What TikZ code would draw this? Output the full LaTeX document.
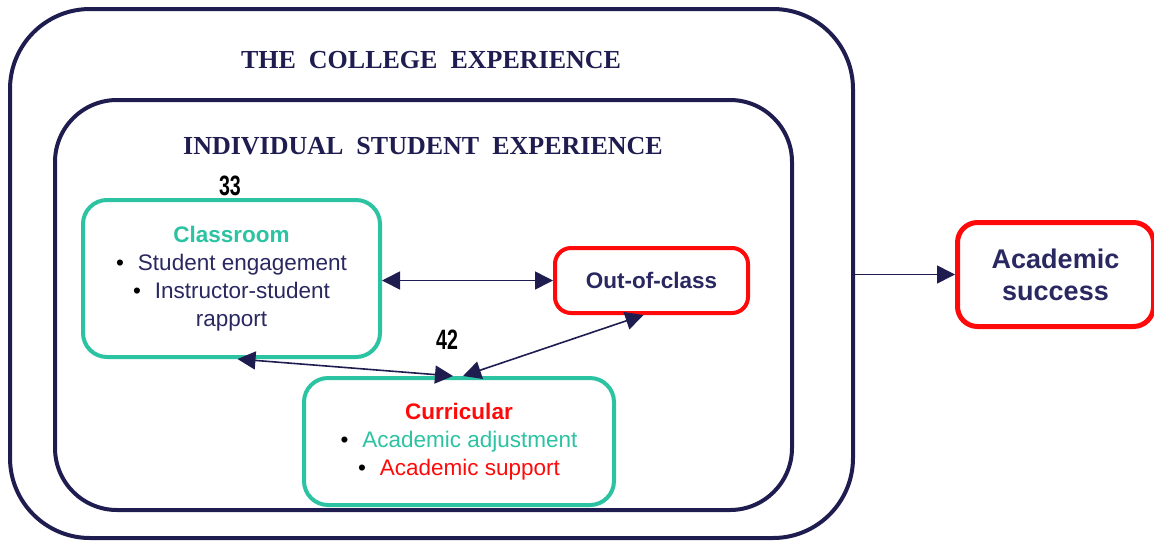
\documentclass[tikz,border=0pt]{standalone}
\usepackage{fontspec}
\usepackage{graphicx}
\setmainfont{Liberation Serif}
\newfontfamily\arialf{Liberation Sans}
\usetikzlibrary{arrows.meta}
\definecolor{navy}{HTML}{1F1D50}
\definecolor{navytxt}{HTML}{2A2860}
\definecolor{tealc}{HTML}{2CC3A2}
\definecolor{redc}{HTML}{FF0A0A}
\tikzset{
  frame/.style={draw=navy, line width=4pt, rounded corners=#1},
  frame/.default=70pt,
  tealbox/.style={draw=tealc, line width=4pt, rounded corners=24pt, fill=white,
    font=\arialf\fontsize{22.5}{28}\selectfont, align=center, text=navytxt},
  redbox/.style={draw=redc, line width=4pt, rounded corners=16pt, fill=white,
    font=\arialf\bfseries\fontsize{22.5}{28}\selectfont, align=center, text=navytxt},
  heading/.style={font=\bfseries\fontsize{26}{30}\selectfont, text=navy},
  num/.style={font=\arialf\bfseries\fontsize{28}{30}\selectfont, text=black},
  tip/.style={Triangle[length=18pt,width=18pt]},
  conn/.style={draw=navy, line width=1.6pt, {Triangle[length=18pt,width=18pt]}-{Triangle[length=18pt,width=18pt]}},
  conn1/.style={draw=navy, line width=1.6pt, -{Triangle[length=18pt,width=18pt]}},
}
\newcommand{\bul}{\textcolor{black}{\textbullet}\hspace{14pt}}
\begin{document}
\begin{tikzpicture}[x=1pt,y=-1pt]
\useasboundingbox (0,0) rectangle (1154,542);
% outer frames
\node[frame=80pt, minimum width=843pt, minimum height=529pt] (outer) at (431.5,273.5) {};
\node[frame=62pt, minimum width=737pt, minimum height=410pt] (inner) at (423.5,305) {};
\node[heading] (t1) at (431,60) {THE\ \ COLLEGE\ \ EXPERIENCE};
\node[heading] (t2) at (423,146) {INDIVIDUAL\ \ STUDENT\ \ EXPERIENCE};
% boxes
\node[tealbox, minimum width=297pt, minimum height=157pt] (cls) at (231.5,278.5)
  {\textcolor{tealc}{\bfseries Classroom}\\ \bul Student engagement\\ \bul Instructor-student\\ rapport};
\node[redbox, minimum width=193pt, minimum height=65pt] (out) at (651.5,280.5) {Out-of-class};
\node[tealbox, minimum width=310pt, minimum height=127pt] (cur) at (459,441.5)
  {\textcolor{redc}{\bfseries Curricular}\\ \bul\textcolor{tealc}{Academic adjustment}\\ \bul\textcolor{redc}{Academic support}};
\node[redbox, line width=5pt, rounded corners=20pt, minimum width=196pt, minimum height=104pt,
  font=\arialf\bfseries\fontsize{27}{32}\selectfont] (succ) at (1055.5,274.5) {Academic\\ success};
% numbers
\node[num] (n33) at (230,186) {\scalebox{0.7}[1]{33}};
\node[num] (n42) at (447,340) {\scalebox{0.7}[1]{42}};
% connectors
\draw[conn] (cls.east |- out.west) -- (out.west);
\draw[conn] ([xshift=6pt]cls.south) -- ([xshift=-6pt]cur.north);
\draw[conn] ([xshift=4pt]cur.north) -- ([xshift=-8pt]out.south);
\draw[conn1] (outer.east |- succ.west) -- (succ.west);
\end{tikzpicture}
\end{document}
